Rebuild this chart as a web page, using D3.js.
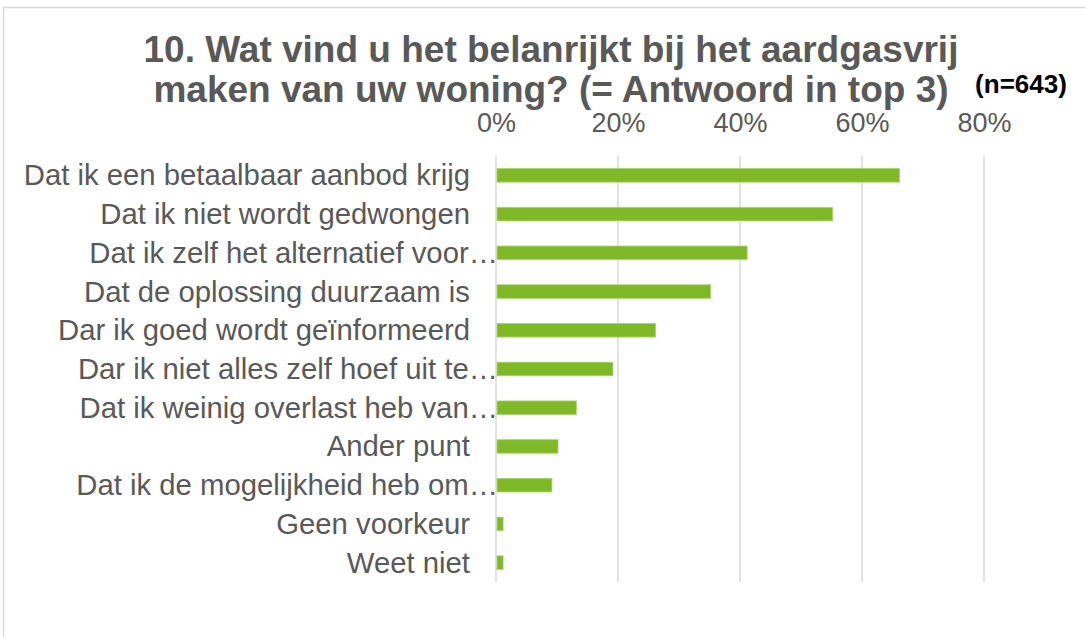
<!DOCTYPE html>
<html>
<head>
<meta charset="utf-8">
<script src="https://cdn.jsdelivr.net/npm/d3@7"></script>
<style>
  body { margin: 0; background: #fff; }
  svg text { font-family: "Liberation Sans", Arial, sans-serif; }
</style>
</head>
<body>
<div class="svgContainer"></div>
<script>
/* chart data */
var categories = [
  "Dat ik een betaalbaar aanbod krijg",
  "Dat ik niet wordt gedwongen",
  "Dat ik zelf het alternatief voor…",
  "Dat de oplossing duurzaam is",
  "Dar ik goed wordt geïnformeerd",
  "Dar ik niet alles zelf hoef uit te…",
  "Dat ik weinig overlast heb van…",
  "Ander punt",
  "Dat ik de mogelijkheid heb om…",
  "Geen voorkeur",
  "Weet niet"
];
var values = [66, 55, 41, 35, 26, 19, 13, 10, 9, 1, 1];
var tickValues = [0, 20, 40, 60, 80];
var titleLines = [
  "10. Wat vind u het belanrijkt bij het aardgasvrij",
  "maken van uw woning? (= Antwoord in top 3)"
];
var note = "(n=643)";

var width = 1085,
    height = 637;

var svg = d3.select(".svgContainer")
  .append("svg")
    .attr("width", width)
    .attr("height", height);

/* outer chart border */
svg.append("rect")
  .attr("x", 3.5)
  .attr("y", 7.5)
  .attr("width", width)
  .attr("height", height)
  .attr("fill", "none")
  .attr("stroke", "#d9d9d9")
  .attr("stroke-width", 1.5);

var x = d3.scaleLinear()
  .domain([0, 80])
  .range([496, 984]);

var y = d3.scaleBand()
  .domain(categories)
  .range([156, 582])
  .paddingInner(0.65)
  .paddingOuter(0.325);

/* gridlines */
svg.append("g")
  .selectAll("line")
  .data(tickValues)
  .enter()
    .append("line")
      .attr("x1", function(d) { return x(d); })
      .attr("x2", function(d) { return x(d); })
      .attr("y1", 156)
      .attr("y2", 582)
      .attr("stroke", "#d9d9d9")
      .attr("stroke-width", 1.5);

/* top axis labels */
var axis = d3.axisTop(x)
  .tickValues(tickValues)
  .tickSize(0)
  .tickPadding(0)
  .tickFormat(function(d) { return d + "%"; });

var axisG = svg.append("g")
  .attr("transform", "translate(0,132)")
  .call(axis);
axisG.select(".domain").remove();
axisG.selectAll("text")
  .attr("font-size", 27)
  .attr("fill", "#595959")
  .attr("dy", 0)
  .style("font-family", "'Liberation Sans', Arial, sans-serif");

/* bars */
svg.append("g")
  .selectAll("rect")
  .data(values)
  .enter()
    .append("rect")
      .attr("x", x(0) + 1)
      .attr("y", function(d, i) { return y(categories[i]); })
      .attr("width", function(d) { return x(d) - x(0); })
      .attr("height", y.bandwidth())
      .attr("fill", "#80b927")
      .attr("stroke", "#a6d468")
      .attr("stroke-width", 0.8);

/* category labels, truncated ones run past the label edge */
svg.append("g")
  .selectAll("text")
  .data(categories)
  .enter()
    .append("text")
      .attr("x", function(d) { return d.slice(-1) == "…" ? 498 : 470; })
      .attr("y", function(d) { return y(d) + y.bandwidth() / 2 + 10; })
      .attr("text-anchor", "end")
      .attr("font-size", 29.3)
      .attr("fill", "#595959")
      .text(function(d) { return d; });

/* title */
svg.append("g")
  .selectAll("text")
  .data(titleLines)
  .enter()
    .append("text")
      .attr("x", 551)
      .attr("y", function(d, i) { return 62 + i * 40; })
      .attr("text-anchor", "middle")
      .attr("font-size", 37)
      .attr("font-weight", "bold")
      .attr("fill", "#595959")
      .text(function(d) { return d; });

svg.append("text")
  .attr("x", 1021)
  .attr("y", 93)
  .attr("text-anchor", "middle")
  .attr("font-size", 26)
  .attr("font-weight", "bold")
  .attr("fill", "#000")
  .text(note);
</script>
</body>
</html>
